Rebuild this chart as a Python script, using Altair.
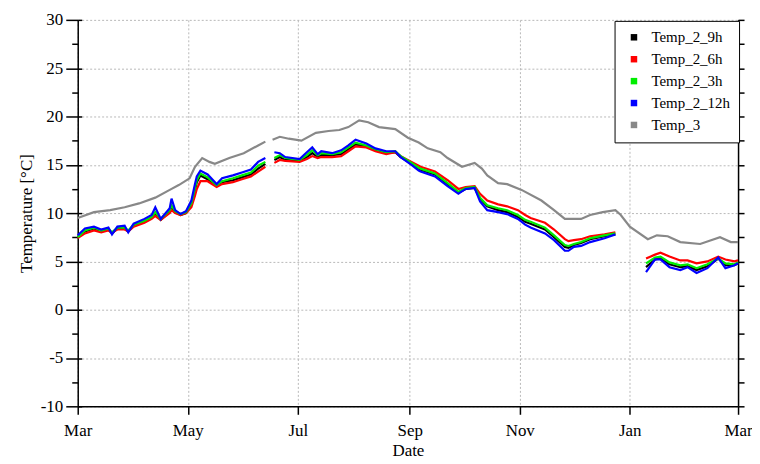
import altair as alt
import pandas as pd

start = pd.Timestamp("2011-03-01")

# day offsets from 1 March (None in value lists marks a gap in the record)
days = [0, 4, 9, 13, 17, 19, 22, 26, 28, 31, 37, 41, 43, 46, 51, 52, 54, 57, 60, 63,
        65, 66, 68, 72, 77, 80, 86, 91, 96, 100, 104, 106,
        109, 112, 115, 123, 127, 130, 133, 135, 141, 146, 150, 154, 160, 165, 171, 176, 179, 185,
        189, 190, 198, 205, 211, 215, 220, 223, 227, 233, 238, 244, 248, 251, 259, 264, 270, 272,
        275, 279, 284, 292, 298, 305,
        315, 320, 323, 328, 334, 338, 343, 349, 355, 359, 364, 366]

t_9h = [7.5, 8.1, 8.4, 8.1, 8.3, 7.9, 8.4, 8.4, 8.1, 8.7, 9.1, 9.5, 9.9, 9.3, 10.2, 10.6, 10.1, 9.8, 10.0, 10.9,
        12.4, 13.2, 13.9, 13.5, 12.8, 13.2, 13.4, 13.7, 14.0, 14.6, 15.1, None,
        15.5, 15.8, 15.5, 15.4, 15.8, 16.2, 15.8, 16.0, 16.0, 16.1, 16.6, 17.1, 16.9, 16.5, 16.2, 16.3, 15.8, 15.1,
        14.6, 14.5, 14.0, 13.0, 12.1, 12.5, 12.6, 11.5, 10.7, 10.3, 10.1, 9.6, 9.1, 8.9, 8.3, 7.5, 6.5, 6.4,
        6.7, 6.9, 7.3, 7.6, 7.8, None,
        4.4, 5.2, 5.3, 4.7, 4.4, 4.5, 4.1, 4.5, 5.3, 4.6, 4.6, 4.8]

t_6h = [7.4, 7.9, 8.2, 8.0, 8.2, 8.0, 8.3, 8.3, 8.1, 8.6, 9.0, 9.4, 9.7, 9.3, 10.0, 10.3, 10.0, 9.8, 10.0, 10.6,
        11.8, 12.5, 13.3, 13.3, 12.7, 13.0, 13.2, 13.5, 13.8, 14.3, 14.8, None,
        15.2, 15.5, 15.4, 15.3, 15.6, 15.9, 15.7, 15.8, 15.8, 15.9, 16.4, 16.9, 16.8, 16.4, 16.1, 16.3, 15.9, 15.3,
        14.9, 14.8, 14.3, 13.4, 12.5, 12.7, 12.8, 12.0, 11.3, 10.9, 10.7, 10.3, 9.8, 9.5, 9.0, 8.3, 7.3, 7.1,
        7.2, 7.3, 7.6, 7.8, 8.0, None,
        5.3, 5.7, 5.9, 5.5, 5.1, 5.1, 4.8, 5.0, 5.5, 5.2, 5.0, 5.1]

t_3h = [7.5, 8.2, 8.5, 8.2, 8.4, 8.0, 8.5, 8.5, 8.2, 8.8, 9.2, 9.6, 10.1, 9.4, 10.3, 10.8, 10.2, 9.9, 10.1, 11.0,
        12.6, 13.4, 14.1, 13.7, 12.9, 13.3, 13.6, 13.9, 14.2, 14.9, 15.3, None,
        15.7, 16.0, 15.7, 15.5, 16.0, 16.5, 16.0, 16.2, 16.1, 16.3, 16.8, 17.3, 17.0, 16.6, 16.3, 16.4, 15.9, 15.2,
        14.7, 14.6, 14.1, 13.1, 12.2, 12.6, 12.7, 11.6, 10.8, 10.5, 10.3, 9.8, 9.3, 9.1, 8.5, 7.7, 6.7, 6.6,
        6.8, 7.0, 7.4, 7.7, 7.9, None,
        4.8, 5.4, 5.5, 4.9, 4.6, 4.7, 4.3, 4.7, 5.3, 4.8, 4.7, 4.9]

t_12h = [7.7, 8.4, 8.6, 8.3, 8.5, 7.8, 8.6, 8.7, 8.0, 8.9, 9.4, 9.8, 10.6, 9.4, 10.5, 11.5, 10.3, 9.9, 10.2, 11.3,
         13.0, 13.8, 14.4, 14.0, 13.0, 13.6, 13.9, 14.2, 14.5, 15.3, 15.7, None,
         16.3, 16.2, 15.8, 15.6, 16.3, 16.8, 16.1, 16.4, 16.2, 16.5, 17.0, 17.6, 17.2, 16.7, 16.4, 16.4, 15.8, 15.0,
         14.4, 14.3, 13.8, 12.8, 12.0, 12.5, 12.6, 11.2, 10.3, 10.1, 9.9, 9.4, 8.8, 8.5, 7.9, 7.2, 6.1, 6.1,
         6.5, 6.6, 7.0, 7.4, 7.8, None,
         3.9, 5.2, 5.2, 4.4, 4.1, 4.4, 3.8, 4.3, 5.4, 4.3, 4.6, 4.8]

g_days = [0, 9, 18, 26, 34, 43, 51, 56, 62, 65, 69, 73, 76, 84, 92, 100, 104, 106,
          108, 112, 117, 124, 132, 139, 145, 150, 156, 161, 167, 176, 183, 189, 194, 201, 205,
          213, 220, 224, 227, 233, 238, 246, 257, 264, 270, 279, 284, 291, 298, 301, 306, 316,
          321, 327, 334, 345, 356, 362, 366]
t_3 = [9.5, 10.1, 10.3, 10.6, 11.0, 11.6, 12.4, 12.9, 13.6, 14.8, 15.7, 15.3, 15.1, 15.7, 16.2, 17.0, 17.4, None,
       17.6, 17.9, 17.7, 17.5, 18.3, 18.5, 18.6, 18.9, 19.6, 19.4, 18.9, 18.7, 17.8, 17.3, 16.7, 16.3, 15.7,
       14.8, 15.2, 14.6, 13.9, 13.1, 13.0, 12.4, 11.3, 10.3, 9.4, 9.4, 9.8, 10.1, 10.3, 9.8, 8.6, 7.3,
       7.7, 7.6, 7.0, 6.8, 7.5, 7.0, 7.0]

series_names = ["Temp_2_9h", "Temp_2_6h", "Temp_2_3h", "Temp_2_12h", "Temp_3"]
series_colors = ["#000000", "#ff0000", "#00ee00", "#0000ff", "#888888"]

y_major = [-10, -5, 0, 5, 10, 15, 20, 25, 30]
y_minor = [-7.5, -2.5, 2.5, 7.5, 12.5, 17.5, 22.5, 27.5]
y_all = sorted(y_major + y_minor)


def frame(name, dd, vals):
    df = pd.DataFrame({"day": dd, "value": vals})
    df["seg"] = name + "_" + df["value"].isna().cumsum().astype(str)
    df = df.dropna().copy()
    df["date"] = (start + pd.to_timedelta(df["day"], unit="D")).dt.strftime("%Y-%m-%d")
    df["series"] = name
    return df


data = pd.concat([
    frame("Temp_2_9h", days, t_9h),
    frame("Temp_2_6h", days, t_6h),
    frame("Temp_2_3h", days, t_3h),
    frame("Temp_2_12h", days, t_12h),
    frame("Temp_3", g_days, t_3),
], ignore_index=True)

FONT = "Liberation Serif"

month_ticks = [alt.DateTime(year=2011, month=m, date=1, utc=True) for m in (3, 5, 7, 9, 11)] + \
              [alt.DateTime(year=2012, month=m, date=1, utc=True) for m in (1, 3)]

xscale = alt.Scale(type="utc", nice=False,
                   domain=[alt.DateTime(year=2011, month=3, date=1, utc=True),
                           alt.DateTime(year=2012, month=3, date=1, utc=True)])
yscale = alt.Scale(domain=[-10, 30], nice=False, zero=False)

grid_kw = dict(gridColor="#b8b8b8", gridDash=[2, 2], gridWidth=1)

xaxis = alt.Axis(values=month_ticks, labelExpr="utcFormat(datum.value, '%b')", title="Date",
                 grid=True, tickSize=8, tickWidth=1.5, tickColor="black",
                 domainColor="black", domainWidth=1.5, labelPadding=8,
                 labelFlush=False, labelAlign="center", labelOverlap=False,
                 labelFont=FONT, labelFontSize=17, labelColor="black",
                 titleFont=FONT, titleFontSize=17, titleFontWeight="normal", titleColor="black",
                 titlePadding=4, **grid_kw)

yaxis = alt.Axis(values=y_major, labelExpr="datum.value + ''", title="Temperature [°C]",
                 grid=True, tickSize=12,
                 tickWidth=1.5, tickColor="black", domainColor="black", domainWidth=1.5,
                 labelPadding=3, labelFont=FONT, labelFontSize=17, labelColor="black",
                 titleFont=FONT, titleFontSize=17, titleFontWeight="normal", titleColor="black",
                 titlePadding=5, **grid_kw)

legend = alt.Legend(title=None, orient="none", legendX=539, legendY=1,
                    symbolType="square", symbolSize=9, symbolStrokeWidth=3.5,
                    labelFont=FONT, labelFontSize=15, labelColor="black",
                    padding=9, rowPadding=5, symbolOffset=3, labelOffset=10,
                    strokeColor="black", fillColor="white")

lines = alt.Chart(data).mark_line(strokeWidth=2.2).encode(
    x=alt.X("date:T", scale=xscale, axis=xaxis),
    y=alt.Y("value:Q", scale=yscale, axis=yaxis),
    color=alt.Color("series:N", scale=alt.Scale(domain=series_names, range=series_colors),
                    legend=legend, sort=series_names),
    detail="seg:N",
)

minor_left = alt.Chart(data).mark_point(opacity=0, size=1).encode(
    x=alt.X("date:T", scale=xscale, axis=None),
    y=alt.Y("value:Q", scale=yscale,
            axis=alt.Axis(orient="left", values=y_minor, labels=False, grid=False,
                          domain=False, tickSize=6, tickWidth=1.5, tickColor="black", title=None)),
)

inner_left = alt.Chart(data).mark_point(opacity=0, size=1).encode(
    x=alt.X("date:T", scale=xscale, axis=None),
    y=alt.Y("value:Q", scale=yscale,
            axis=alt.Axis(orient="left", values=y_major, labels=False, grid=False, offset=-4,
                          domain=False, tickSize=4, tickWidth=1.5, tickColor="black", title=None)),
)

right_axis = alt.Chart(data).mark_point(opacity=0, size=1).encode(
    x=alt.X("date:T", scale=xscale, axis=None),
    y=alt.Y("value:Q", scale=yscale,
            axis=alt.Axis(orient="right", values=y_all, labels=False, grid=False,
                          domain=True, domainColor="black", domainWidth=1.5,
                          tickSize=6, tickWidth=1.5, tickColor="black", title=None)),
)

chart = alt.layer(lines, minor_left, inner_left, right_axis).resolve_axis(
    x="independent", y="independent"
).properties(
    width=663, height=388,
    autosize=alt.AutoSizeParams(type="none"),
    padding={"left": 70, "top": 11, "right": 14, "bottom": 57},
    background="white",
).configure_view(stroke=None)

chart.save("out.html", embed_options={"renderer": "svg", "actions": False})
